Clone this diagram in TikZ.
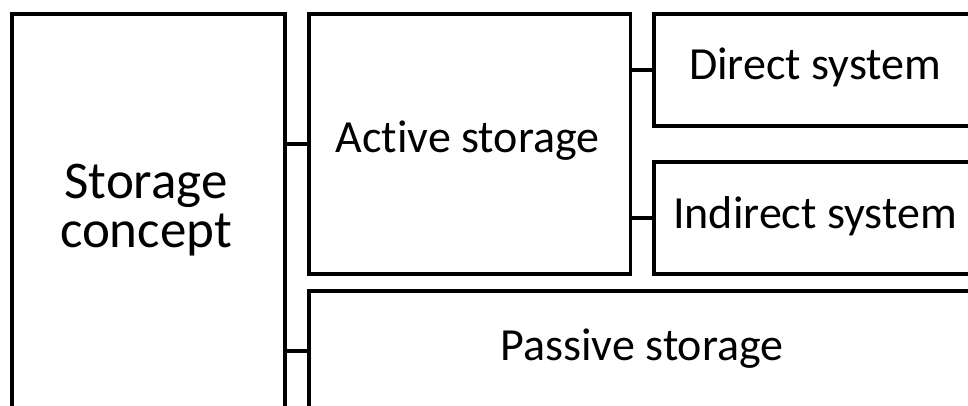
\documentclass[tikz,border=0pt]{standalone}
\usepackage{fontspec}
\setmainfont{Carlito}[Ligatures={NoCommon,NoRequired,NoContextual}]
\begin{document}
\begin{tikzpicture}[x=1pt,y=-1pt,
  box/.style={draw=black, line width=3.8pt, rectangle, inner sep=0pt, outer sep=0pt, anchor=north west},
  lbl/.style={font=\fontsize{46}{55}\selectfont, anchor=base, inner sep=0pt},
  biglbl/.style={font=\fontsize{53}{60}\selectfont, anchor=base, inner sep=0pt},
  link/.style={line width=3.8pt}]
\useasboundingbox (0,0) rectangle (968,406);
\clip (0,0) rectangle (968,406);

% boxes (some run past the page edge)
\node[box, minimum width=273.3pt, minimum height=500pt] (concept) at (11.7,14.3) {};
\node[box, minimum width=321.8pt, minimum height=259.7pt] (active) at (308.7,14.3) {};
\node[box, minimum width=400pt, minimum height=111.4pt] (direct) at (654.3,14.3) {};
\node[box, minimum width=400pt, minimum height=111.7pt] (indirect) at (654.3,162.3) {};
\node[box, minimum width=800pt, minimum height=300pt] (passive) at (308.7,291) {};

% labels
\node[biglbl] (tconcept1) at (146,198) {Storage};
\node[biglbl] (tconcept2) at (146,247) {concept};
\node[lbl] (tactive) at (467.5,152.7) {Active storage};
\node[lbl] (tdirect) at (815,80) {Direct system};
\node[lbl] (tindirect) at (815,228.3) {Indirect system};
\node[lbl] (tpassive) at (642,360.7) {Passive storage};

% connectors
\coordinate (cpass) at (0,351);
\draw[link] (concept.east |- active.west) -- (active.west);
\draw[link] (concept.east |- cpass) -- (passive.west |- cpass);
\draw[link] (active.east |- direct.west) -- (direct.west);
\draw[link] (active.east |- indirect.west) -- (indirect.west);
\end{tikzpicture}
\end{document}
